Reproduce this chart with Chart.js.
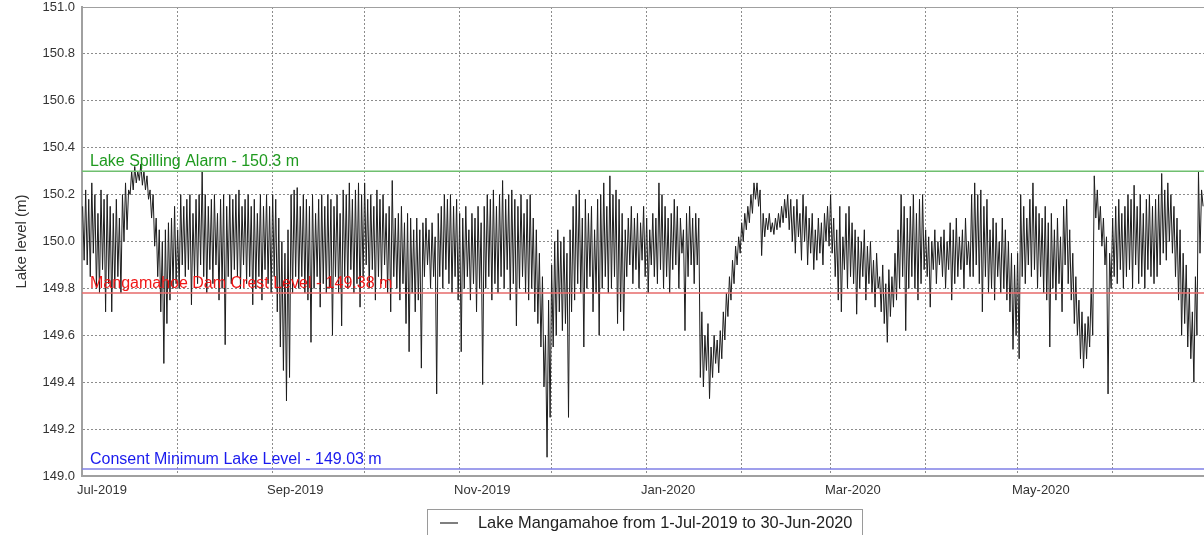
<!DOCTYPE html>
<html>
<head>
<meta charset="utf-8">
<script src="https://cdn.jsdelivr.net/npm/chart.js@4.4.1/dist/chart.umd.min.js"></script>
<style>
  html, body { margin: 0; padding: 0; background: #fff; }
  #wrap { width: 1204px; height: 535px; }
</style>
</head>
<body>
<div id="wrap"><canvas id="levelChart" width="1204" height="535"></canvas></div>
<script>
// days since 1-Jul-2019 where each month starts, and their labels
const monthStarts = [0, 31, 62, 92, 123, 153, 184, 215, 244, 275, 305, 336, 366];
const monthLabels = ["Jul-2019", "", "Sep-2019", "", "Nov-2019", "", "Jan-2020", "", "Mar-2020", "", "May-2020", "", ""];

// daily high / low lake level (m), 1-Jul-2019 .. 30-Jun-2020
const dailyHigh = [
  150.15, 150.22, 150.18, 150.25, 150.2, 150.12, 150.22, 150.18, 150.2, 150.15,
  150.12, 150.18, 150.1, 150.2, 150.25, 150.22, 150.3, 150.32, 150.3, 150.33,
  150.3, 150.28, 150.22, 150.2, 150.1, 150.05, 150.0, 150.05, 150.08, 150.1,
  150.15, 150.05, 150.2, 150.15, 150.18, 150.2, 150.12, 150.18, 150.2, 150.3,
  150.2, 150.15, 150.18, 150.2, 150.12, 150.18, 150.2, 150.15, 150.2, 150.18,
  150.2, 150.22, 150.15, 150.18, 150.2, 150.15, 150.18, 150.12, 150.2, 150.15,
  150.2, 150.15, 150.2, 150.18, 150.1, 150.0, 149.95, 150.05, 150.2, 150.22,
  150.23, 150.15, 150.2, 150.18, 150.15, 150.2, 150.12, 150.18, 150.2, 150.15,
  150.2, 150.18, 150.15, 150.2, 150.12, 150.22, 150.2, 150.25, 150.18, 150.22,
  150.25, 150.2, 150.25, 150.18, 150.2, 150.15, 150.22, 150.18, 150.2, 150.12,
  150.15, 150.26, 150.1, 150.12, 150.15, 150.08, 150.12, 150.1, 150.05, 150.1,
  150.05, 150.08, 150.1, 150.05, 150.08, 150.02, 150.12, 150.15, 150.2, 150.18,
  150.2, 150.15, 150.18, 150.12, 150.1, 150.15, 150.05, 150.12, 150.1, 150.15,
  150.08, 150.15, 150.2, 150.18, 150.22, 150.15, 150.2, 150.26, 150.18, 150.2,
  150.22, 150.18, 150.15, 150.2, 150.12, 150.18, 150.2, 150.1, 150.05, 149.95,
  149.85, 149.6, 149.75, 149.9, 150.0, 150.05, 150.0, 150.02, 149.95, 150.05,
  150.15, 150.2, 150.22, 150.1, 150.18, 150.12, 150.15, 150.05, 150.18, 150.2,
  150.25, 150.15, 150.28, 150.2, 150.22, 150.18, 150.12, 150.05, 150.1, 150.15,
  150.1, 150.12, 150.08, 150.15, 150.1, 150.05, 150.12, 150.1, 150.25, 150.2,
  150.15, 150.1, 150.12, 150.18, 150.15, 150.1, 150.05, 150.12, 150.15, 150.1,
  150.12, 150.1, 149.7, 149.6, 149.65, 149.55, 149.6, 149.58, 149.62, 149.7,
  149.78, 149.85, 149.92, 149.98, 150.02, 150.08, 150.12, 150.15, 150.2, 150.25,
  150.25, 150.22, 150.12, 150.1, 150.12, 150.08, 150.1, 150.12, 150.15, 150.18,
  150.2, 150.18, 150.15, 150.18, 150.12, 150.2, 150.15, 150.1, 150.12, 150.05,
  150.1, 150.08, 150.12, 150.15, 150.2, 150.1, 150.05, 150.15, 150.02, 150.12,
  150.15, 150.08, 150.05, 150.02, 150.0, 150.05, 149.98, 150.0, 149.92, 149.95,
  149.85, 149.9, 149.82, 149.88, 149.85, 149.95, 150.05, 150.2, 150.15, 150.1,
  150.15, 150.2, 150.12, 150.18, 150.2, 150.05, 150.02, 150.0, 150.05, 150.0,
  150.02, 150.05, 150.0, 150.08, 150.05, 150.1, 150.02, 150.05, 150.1, 150.0,
  150.2, 150.25, 150.2, 150.22, 150.15, 150.18, 150.05, 150.1, 150.08, 150.0,
  150.1, 150.05, 150.0, 149.95, 149.9, 149.95, 150.2, 150.15, 150.1, 150.18,
  150.25, 150.15, 150.12, 150.1, 150.15, 150.08, 150.12, 150.05, 150.1, 150.02,
  150.15, 150.18, 150.05, 149.95, 149.85, 149.75, 149.7, 149.65, 149.68, 149.8,
  150.28, 150.22, 150.15, 150.1, 150.02, 149.95, 150.1, 150.15, 150.18, 150.12,
  150.15, 150.2, 150.18, 150.24, 150.15, 150.2, 150.12, 150.18, 150.2, 150.15,
  150.18, 150.2, 150.29, 150.22, 150.25, 150.2, 150.15, 150.1, 150.05, 149.95,
  149.9, 149.8, 149.7, 149.85, 150.3, 150.22
];
const dailyLow = [
  149.92, 149.9, 149.85, 149.95, 149.8, 149.78, 149.88, 149.7, 149.82, 149.7,
  149.8, 149.85, 149.78, 150.0, 150.05, 150.2, 150.22, 150.25, 150.26, 150.24,
  150.22, 150.18, 150.1, 149.98, 149.85, 149.7, 149.48, 149.65, 149.75, 149.8,
  149.82, 149.8, 149.9, 149.85, 149.88, 149.73, 149.85, 149.82, 149.9, 149.85,
  149.78, 149.88, 149.82, 149.9, 149.75, 149.8, 149.56, 149.85, 149.82, 149.88,
  149.85, 149.8, 149.9, 149.82, 149.85, 149.73, 149.8, 149.85, 149.75, 149.88,
  149.82, 149.78, 149.85, 149.7, 149.55, 149.45, 149.32, 149.42, 149.78, 149.85,
  149.8, 149.85, 149.78, 149.75, 149.57, 149.8, 149.85, 149.72, 149.82, 149.78,
  149.8, 149.6, 149.85, 149.78, 149.64, 149.85, 149.8, 149.88, 149.78, 149.82,
  149.72, 149.85, 149.9, 149.8, 149.88, 149.75, 149.85, 149.82, 149.9, 149.78,
  149.7, 149.85, 149.8, 149.75, 149.82, 149.65, 149.53, 149.78, 149.7, 149.75,
  149.46, 149.85, 149.9, 149.8, 149.85, 149.35, 149.85, 149.8, 149.88, 149.82,
  149.78, 149.85, 149.75, 149.53, 149.8, 149.85, 149.75, 149.82, 149.7, 149.8,
  149.39, 149.8, 149.85, 149.75, 149.82, 149.78, 149.85, 149.8, 149.88, 149.75,
  149.82, 149.64, 149.8, 149.85, 149.78, 149.75, 149.8, 149.7, 149.65, 149.55,
  149.38, 149.08, 149.25, 149.55, 149.6, 149.7, 149.62, 149.65, 149.25, 149.7,
  149.75, 149.82, 149.78, 149.55, 149.8, 149.85, 149.7, 149.78, 149.6, 149.8,
  149.85, 149.78, 149.8, 149.85, 149.65, 149.7, 149.62, 149.85, 149.9, 149.82,
  149.88, 149.8, 149.92, 149.85, 149.78, 149.9, 149.85, 149.82, 149.88, 149.8,
  149.85, 149.78, 149.88, 149.9, 149.8, 149.95, 149.62, 149.85, 149.9, 149.82,
  149.9, 149.42, 149.38, 149.45, 149.33, 149.42, 149.48, 149.44, 149.5, 149.58,
  149.68, 149.75, 149.82, 149.9, 149.95, 150.0, 150.05, 150.08, 150.12, 150.18,
  150.15, 149.94, 150.02, 150.05, 150.04, 150.03, 150.05, 150.06, 150.08, 150.1,
  150.05, 150.0, 149.95, 150.02, 149.92, 150.0, 149.9, 149.95, 149.88, 149.92,
  149.95, 149.9, 150.0, 149.98, 149.95, 149.85, 149.75, 149.7, 149.88, 149.8,
  149.85, 149.82, 149.69, 149.8, 149.85, 149.75, 149.82, 149.78, 149.72, 149.8,
  149.7, 149.65, 149.57, 149.68, 149.72, 149.75, 149.8, 149.85, 149.62, 149.8,
  149.85, 149.8, 149.75, 149.82, 149.88, 149.85, 149.72, 149.88, 149.82, 149.9,
  149.85, 149.8, 149.88, 149.75, 149.82, 149.85, 149.88, 149.8, 149.9, 149.85,
  149.85, 149.9, 149.82, 149.7, 149.85, 149.78, 149.8, 149.75, 149.85, 149.78,
  149.8, 149.75, 149.7, 149.54, 149.6, 149.5, 149.85, 149.82, 149.9, 149.85,
  149.88, 149.8, 149.85, 149.78, 149.75, 149.55, 149.8, 149.75, 149.82, 149.7,
  149.9, 149.82, 149.75, 149.65, 149.6, 149.5, 149.46, 149.5, 149.55, 149.6,
  150.1, 150.05, 149.98, 149.9, 149.35, 149.8, 149.85, 149.82, 149.88, 149.8,
  149.85, 149.88, 149.8, 149.9, 149.82, 149.85, 149.8, 149.88, 149.85, 149.82,
  149.85, 149.9, 149.95, 149.92, 150.0, 149.95, 149.85, 149.75, 149.6, 149.65,
  149.55, 149.5, 149.4, 149.6, 149.95, 150.15
];

// reference levels drawn as horizontal lines
const refValues = [150.3, 149.78, 149.03];
const refLabels = ["Lake Spilling Alarm - 150.3 m", "Mangamahoe Dam Crest Level - 149.38 m", "Consent Minimum Lake Level - 149.03 m"];
const refLineColors = ["#6fbf6f", "#e66a6a", "#7f7fe6"];
const refTextColors = ["#1f9a1f", "#f01818", "#1a1aee"];

const seriesLabel = "Lake Mangamahoe from 1-Jul-2019 to 30-Jun-2020";

// high then low for each day -> zig-zag trace
const levelPoints = [];
dailyHigh.forEach(function (h, d) {
    levelPoints.push({ x: d + 0.2, y: h });
    levelPoints.push({ x: d + 0.7, y: dailyLow[d] });
});

const FONT = "'Liberation Sans', Arial, sans-serif";

const refDatasets = refValues.map(function (v, i) {
    return {
        label: refLabels[i],
        data: [{ x: 0, y: v }, { x: 366, y: v }],
        borderColor: refLineColors[i],
        borderWidth: 1.5,
        pointRadius: 0,
        order: 0
    };
});

// labels above the reference lines
const refLabelPlugin = {
    id: "refLabels",
    afterDatasetsDraw(chart) {
        const ctx = chart.ctx;
        const y = chart.scales.y;
        ctx.save();
        ctx.font = "16px " + FONT;
        ctx.textBaseline = "alphabetic";
        ctx.textAlign = "left";
        refValues.forEach(function (v, i) {
            ctx.fillStyle = refTextColors[i];
            ctx.fillText(refLabels[i], chart.chartArea.left + 8, y.getPixelForValue(v) - 5);
        });
        ctx.restore();
    }
};

// boxed legend under the axis
const boxLegendPlugin = {
    id: "boxLegend",
    afterDraw(chart) {
        const ctx = chart.ctx;
        ctx.save();
        ctx.strokeStyle = "#9a9a9a";
        ctx.lineWidth = 1;
        ctx.strokeRect(427.5, 509.5, 435, 40);
        ctx.strokeStyle = "#555";
        ctx.lineWidth = 1.5;
        ctx.beginPath();
        ctx.moveTo(440, 523);
        ctx.lineTo(458, 523);
        ctx.stroke();
        ctx.font = "16.4px " + FONT;
        ctx.fillStyle = "#222";
        ctx.textBaseline = "middle";
        ctx.fillText(chart.data.datasets[refDatasets.length].label, 478, 523);
        ctx.restore();
    }
};

new Chart(document.getElementById("levelChart"), {
    type: "line",
    data: {
        datasets: refDatasets.concat([{
            label: seriesLabel,
            data: levelPoints,
            borderColor: "#1c1c1c",
            borderWidth: 1,
            pointRadius: 0,
            tension: 0,
            order: 1
        }])
    },
    options: {
        responsive: false,
        animation: false,
        layout: { padding: 0 },
        plugins: {
            legend: { display: false },
            tooltip: { enabled: false }
        },
        scales: {
            x: {
                type: "linear",
                min: 0,
                max: 366,
                afterBuildTicks: function (scale) {
                    scale.ticks = monthStarts.map(function (v) { return { value: v }; });
                },
                afterFit: function (scale) {
                    scale.height = 59;
                    scale.paddingLeft = 0;
                    scale.paddingRight = 0;
                },
                ticks: {
                    autoSkip: false,
                    maxRotation: 0,
                    align: "start",
                    labelOffset: -5,
                    padding: 7,
                    color: "#333",
                    font: { family: FONT, size: 13 },
                    callback: function (value, index) { return monthLabels[index]; }
                },
                grid: { color: "#8c8c8c", lineWidth: 1, drawTicks: false },
                border: { display: true, color: "#a0a0a0", width: 2, dash: [2, 2] }
            },
            y: {
                min: 149,
                max: 151,
                afterFit: function (scale) {
                    scale.width = 82;
                    scale.paddingTop = 7;
                    scale.paddingBottom = 0;
                },
                ticks: {
                    stepSize: 0.2,
                    padding: 7,
                    color: "#333",
                    font: { family: FONT, size: 13 },
                    callback: function (value) { return value.toFixed(1); }
                },
                grid: {
                    color: function (c) { return c.tick && c.tick.value >= 151 ? "#a0a0a0" : "#8c8c8c"; },
                    lineWidth: 1,
                    drawTicks: false
                },
                border: {
                    display: true,
                    color: "#a0a0a0",
                    width: 2,
                    dash: function (c) { return c.tick && c.tick.value >= 151 ? [] : [2, 2]; }
                },
                title: {
                    display: true,
                    text: "Lake level (m)",
                    color: "#333",
                    font: { family: FONT, size: 15 },
                    padding: { top: 13, bottom: 0 }
                }
            }
        }
    },
    plugins: [refLabelPlugin, boxLegendPlugin]
});
</script>
</body>
</html>
